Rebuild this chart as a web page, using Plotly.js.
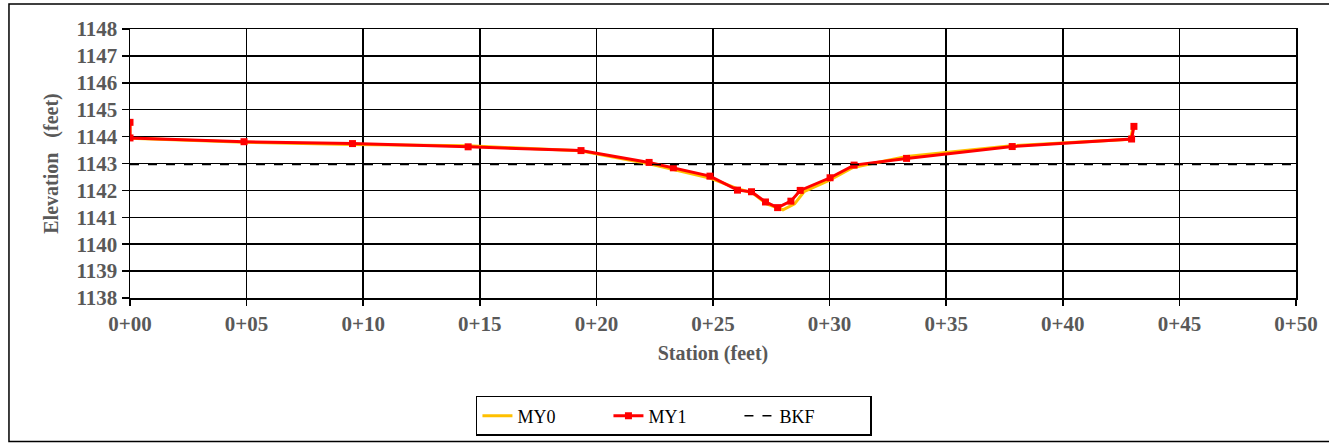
<!DOCTYPE html>
<html>
<head>
<meta charset="utf-8">
<script src="https://cdn.plot.ly/plotly-3.0.1.min.js"></script>
<style>html,body{margin:0;padding:0;background:#fff;}#chart{width:1329px;height:446px;}</style>
</head>
<body>
<div id="chart"></div>
<script>
// Station (ft) and elevation (ft)
const my0Station = [0, 0, 4.9, 9.5, 14.5, 19.3, 22.3, 24.9, 26.1, 26.7, 27.3, 28.0, 28.5, 28.9, 30.0, 31.0, 33.3, 37.8, 42.9, 43.0];
const my0Elev    = [1144.5, 1143.94, 1143.79, 1143.71, 1143.66, 1143.47, 1142.98, 1142.45, 1142.05, 1141.9, 1141.5, 1141.28, 1141.5, 1141.95, 1142.38, 1142.85, 1143.26, 1143.66, 1143.9, 1144.3];

const my1Station = [0, 0, 4.89, 9.54, 14.5, 19.34, 22.26, 23.3, 24.87, 26.05, 26.65, 27.25, 27.77, 28.34, 28.74, 30.02, 31.05, 33.3, 37.83, 42.95, 43.05];
const my1Elev    = [1144.53, 1143.95, 1143.81, 1143.74, 1143.62, 1143.48, 1143.04, 1142.84, 1142.53, 1142.01, 1141.95, 1141.57, 1141.36, 1141.6, 1142.0, 1142.47, 1142.94, 1143.19, 1143.63, 1143.91, 1144.38];

const bkfStation = [0, 50];
const bkfElev    = [1142.96, 1142.96];

const xTickVals  = [0, 5, 10, 15, 20, 25, 30, 35, 40, 45, 50];
const xTickText  = ["0+00", "0+05", "0+10", "0+15", "0+20", "0+25", "0+30", "0+35", "0+40", "0+45", "0+50"];

const serif = "Liberation Serif";
const gray = "#595959";

const traces = [
  {x: my0Station, y: my0Elev, name: "MY0", mode: "lines",
   line: {color: "#FFC000", width: 3}},
  {x: my1Station, y: my1Elev, name: "MY1", mode: "lines+markers",
   line: {color: "#FF0000", width: 3},
   marker: {symbol: "square", size: 7, color: "#FF0000"}},
  {x: bkfStation, y: bkfElev, name: "BKF", mode: "lines",
   line: {color: "#000000", width: 1.5, dash: "dash"}}
];

const layout = {
  width: 1329, height: 446,
  margin: {l: 130, r: 33, t: 29, b: 147},
  paper_bgcolor: "#fff", plot_bgcolor: "#fff",
  showlegend: true,
  font: {family: serif},
  xaxis: {
    range: [0, 50], tickvals: xTickVals, ticktext: xTickText,
    showgrid: true, gridcolor: "#000", gridwidth: 1.5,
    showline: true, linecolor: "#000", linewidth: 1.5, mirror: true,
    ticks: "outside", ticklen: 6, tickcolor: "#000", tickwidth: 1.5,
    zeroline: false,
    tickfont: {family: serif, size: 21, color: gray, weight: 700},
    title: {text: "Station (feet)", font: {family: serif, size: 20, color: gray, weight: 700}, standoff: 11}
  },
  yaxis: {
    range: [1138, 1148], dtick: 1,
    showgrid: true, gridcolor: "#000", gridwidth: 1.5,
    showline: true, linecolor: "#000", linewidth: 1.5, mirror: true,
    ticks: "outside", ticklen: 7, tickcolor: "#000", tickwidth: 1.5,
    zeroline: false,
    tickfont: {family: serif, size: 21, color: gray, weight: 700},
    title: {text: "Elevation   (feet)", font: {family: serif, size: 20, color: gray, weight: 700}, standoff: 12}
  },
  legend: {
    orientation: "h", x: 0.2967, y: -0.359, xanchor: "left", yanchor: "top",
    bordercolor: "#000", borderwidth: 1.5, bgcolor: "#fff",
    font: {family: serif, size: 18, color: "#000"},
    entrywidth: 86, entrywidthmode: "pixels"
  },
  shapes: [
    {type: "rect", xref: "paper", yref: "paper",
     x0: -0.1038, x1: 1.04, y0: -0.5333, y1: 1.0926,
     line: {color: "#000", width: 1.5}, fillcolor: "rgba(0,0,0,0)", layer: "below"}
  ]
};

Plotly.newPlot("chart", traces, layout, {displayModeBar: false, staticPlot: true});
</script>
</body>
</html>
